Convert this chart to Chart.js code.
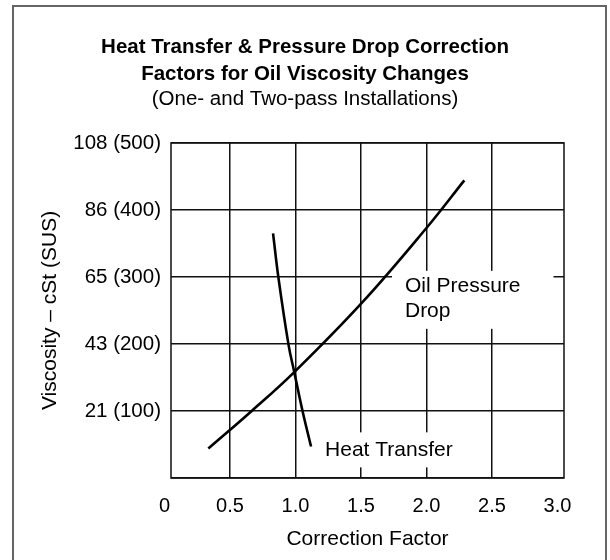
<!DOCTYPE html>
<html>
<head>
<meta charset="utf-8">
<title>Oil Viscosity Correction Factors</title>
<script src="https://cdn.jsdelivr.net/npm/chart.js@4.4.1/dist/chart.umd.min.js"></script>
<style>
  html, body { margin: 0; padding: 0; background: #fff; overflow: hidden; }
  #chart { position: absolute; left: 0; top: 0; }
  .frame {
    position: absolute; left: 12px; top: 5px; width: 591px; height: 600px;
    border: 2px solid #666; border-bottom: none; pointer-events: none;
  }
</style>
</head>
<body>
<canvas id="chart" width="610" height="560"></canvas>
<div class="frame"></div>
<script>
// viscosity axis: SUS positions with matching cSt values
const susTicks = [100, 200, 300, 400, 500];
const cstTicks = [21, 43, 65, 86, 108];
const factorTicks = [0, 0.5, 1.0, 1.5, 2.0, 2.5, 3.0];

// oil pressure drop curve
const oilFactor = [0.335, 0.666, 0.991, 1.51, 2.0, 2.289];
const oilSus = [44, 100, 158, 262, 373, 444];

// heat transfer curve
const heatFactor = [0.829, 0.870, 0.947, 0.991, 1.054, 1.119];
const heatSus = [365, 299, 199, 158, 100, 47];

function toPoints(xs, ys) {
  return xs.map(function(v, i) { return {x: v, y: ys[i]}; });
}

Chart.defaults.font.family = "'Liberation Sans', Arial, sans-serif";
Chart.defaults.color = '#000';

// plot frame plus the white-backed curve names
const curveLabels = {
  id: 'curveLabels',
  beforeDatasetsDraw(chart, args, opts) {
    const ctx = chart.ctx;
    const area = chart.chartArea;
    const x = chart.scales.x, y = chart.scales.y;
    ctx.save();
    ctx.strokeStyle = '#111';
    ctx.lineWidth = 1.5;
    ctx.strokeRect(area.left, area.top, area.right - area.left, area.bottom - area.top);

    ctx.font = opts.font;
    ctx.textBaseline = 'middle';
    ctx.textAlign = 'left';
    opts.items.forEach(function(item) {
      const px = x.getPixelForValue(item.x);
      const py = y.getPixelForValue(item.y);
      const w = Math.max.apply(null, item.lines.map(function(l) { return ctx.measureText(l).width; }));
      const h = item.lines.length * opts.lineHeight;
      const p = item.pad;
      ctx.fillStyle = '#fff';
      ctx.fillRect(px - p[3], py - opts.lineHeight / 2 - p[0], w + p[1] + p[3], h + p[0] + p[2]);
      ctx.fillStyle = '#000';
      item.lines.forEach(function(l, i) { ctx.fillText(l, px, py + i * opts.lineHeight); });
    });
    ctx.restore();
  }
};

var ctx = document.getElementById('chart').getContext('2d');
var myChart = new Chart(ctx, {
  type: 'scatter',
  data: {
    datasets: [{
      label: 'Oil Pressure Drop',
      data: toPoints(oilFactor, oilSus),
      showLine: true,
      borderColor: '#000',
      borderWidth: 2.6,
      pointRadius: 0,
      tension: 0.4
    }, {
      label: 'Heat Transfer',
      data: toPoints(heatFactor, heatSus),
      showLine: true,
      borderColor: '#000',
      borderWidth: 2.6,
      pointRadius: 0,
      tension: 0.4
    }]
  },
  options: {
    responsive: false,
    animation: false,
    layout: { padding: 0 },
    scales: {
      x: {
        type: 'linear',
        min: 0.05,
        max: 3.05,
        afterBuildTicks: function(scale) {
          scale.ticks = factorTicks.map(function(v) { return {value: v}; });
        },
        afterFit: function(scale) { scale.height = 82; },
        grid: {
          drawTicks: false,
          lineWidth: 1.5,
          color: function(c) {
            return (c.tick && (c.tick.value === 0 || c.tick.value === 3.0)) ? 'rgba(0,0,0,0)' : '#111';
          }
        },
        border: { display: false },
        ticks: {
          padding: 16,
          font: { size: 20 },
          callback: function(v) { return v === 0 ? '0' : v.toFixed(1); }
        },
        title: {
          display: true,
          text: 'Correction Factor',
          font: { size: 21 },
          padding: { top: 0, bottom: 8 }
        }
      },
      y: {
        type: 'linear',
        min: 0,
        max: 500,
        afterBuildTicks: function(scale) {
          scale.ticks = [0].concat(susTicks).map(function(v) { return {value: v}; });
        },
        afterFit: function(scale) { scale.width = 171; },
        grid: { drawTicks: false, lineWidth: 1.5, color: '#111' },
        border: { display: false },
        ticks: {
          padding: 10,
          font: { size: 20.5 },
          callback: function(v) {
            var i = susTicks.indexOf(v);
            return i < 0 ? '' : cstTicks[i] + ' (' + v + ')';
          }
        },
        title: {
          display: true,
          text: 'Viscosity \u2013 cSt (SUS)',
          font: { size: 21 },
          padding: { top: 38, bottom: 0 }
        }
      },
      // empty right-hand axis, only keeps a margin beside the plot
      y2: {
        type: 'linear',
        position: 'right',
        afterFit: function(scale) { scale.width = 46; },
        grid: { display: false },
        border: { display: false },
        ticks: { display: false }
      }
    },
    plugins: {
      legend: { display: false },
      tooltip: { enabled: false },
      title: {
        display: true,
        text: ['Heat Transfer & Pressure Drop Correction', 'Factors for Oil Viscosity Changes'],
        font: { size: 20.5, weight: 'bold', lineHeight: 1.3 },
        padding: { top: 34, bottom: 0 }
      },
      subtitle: {
        display: true,
        text: '(One- and Two-pass Installations)',
        font: { size: 20.5, lineHeight: 1.2 },
        padding: { top: 0, bottom: 31 }
      },
      curveLabels: {
        font: "21px 'Liberation Sans', Arial, sans-serif",
        lineHeight: 25,
        items: [
          { lines: ['Oil Pressure', 'Drop'], x: 1.836, y: 286, pad: [3, 33, 5, 13] },
          { lines: ['Heat Transfer'], x: 1.226, y: 42, pad: [5, 8, 5, 6] }
        ]
      }
    }
  },
  plugins: [curveLabels]
});
</script>
</body>
</html>
